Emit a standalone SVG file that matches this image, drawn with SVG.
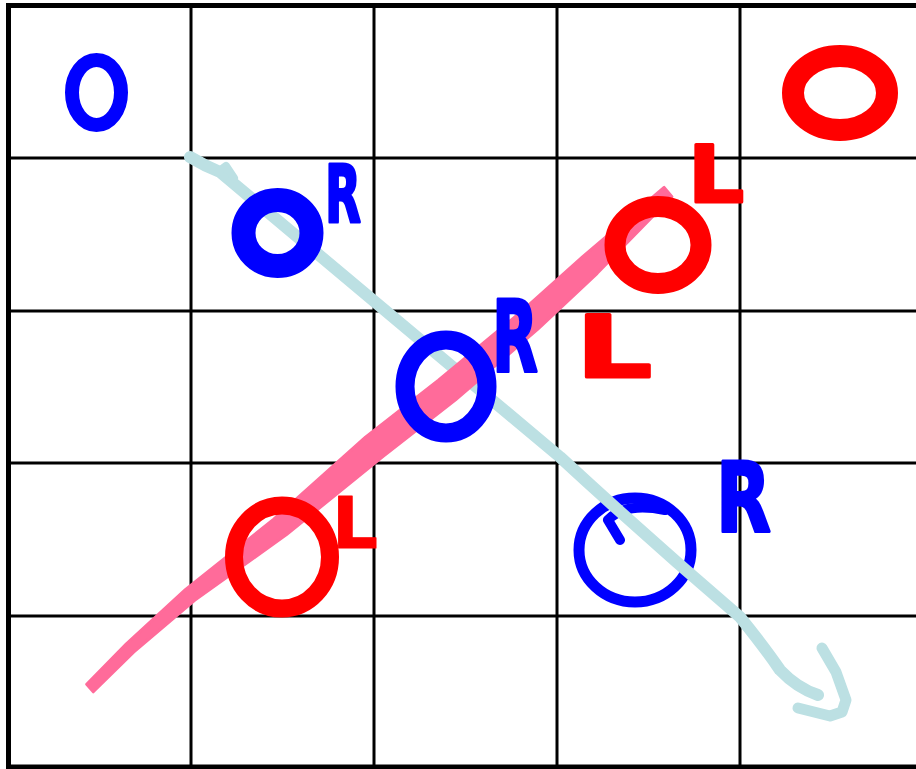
<svg xmlns="http://www.w3.org/2000/svg" width="916" height="769" viewBox="0 0 916 769">
<style>
.grid{stroke:#000;stroke-width:3;fill:none}
.border{stroke:#000;stroke-width:5;fill:none}
.blue{stroke:#0000ff;fill:none;stroke-linejoin:round;stroke-linecap:round}
.red{stroke:#ff0000;fill:none;stroke-linejoin:round;stroke-linecap:round}
.cyan{stroke:#bce0e3;fill:none;stroke-linejoin:round;stroke-linecap:round}
.lbl{font-family:"DejaVu Sans","Liberation Sans",sans-serif;font-weight:bold;stroke-linejoin:round}
.lb{fill:#0000ff;stroke:#0000ff}
.lr{fill:#ff0000;stroke:#ff0000}
</style>
<rect width="916" height="769" fill="#fff"/>
<g id="grid">
<rect class="border" x="8.5" y="5.5" width="930" height="761.5"/>
<line class="grid" x1="191" y1="5" x2="191" y2="767"/>
<line class="grid" x1="374" y1="5" x2="374" y2="767"/>
<line class="grid" x1="557" y1="5" x2="557" y2="767"/>
<line class="grid" x1="740" y1="5" x2="740" y2="767"/>
<line class="grid" x1="8" y1="158" x2="916" y2="158"/>
<line class="grid" x1="8" y1="311" x2="916" y2="311"/>
<line class="grid" x1="8" y1="463" x2="916" y2="463"/>
<line class="grid" x1="8" y1="616" x2="916" y2="616"/>
</g>
<g id="legend-blue"><ellipse class="blue" cx="96.5" cy="92.5" rx="24.5" ry="32.5" stroke-width="14"/></g>
<g id="legend-red"><ellipse class="red" cx="840" cy="93" rx="47" ry="37" stroke-width="22"/></g>
<g id="blue-stone-4"><ellipse class="blue" cx="635" cy="550" rx="56" ry="52" stroke-width="11"/><path class="blue" d="M620,540 L608,520 Q625,502 665,510" stroke-width="10"/></g>
<g id="connectors">
<path class="cyan" d="M190,157 Q205,166 220,172 L560,457 Q650,540 740,617 Q765,648 780,670 Q797,688 818,695" stroke-width="12"/>
<path class="cyan" d="M218,172 L226,166 L234,178" stroke-width="8"/>
<path class="cyan" d="M822,648 L836,672 L846,700 L842,712 L830,716 L798,708" stroke-width="11"/>
<polygon fill="#ff6b9a" stroke="#ff6b9a" stroke-width="3" stroke-linejoin="round" points="93.3,691.8 133.6,652.2 194.6,600.3 286.5,534.6 382.5,456.9 455.5,399.9 537.8,329.1 597.2,273.3 671.9,196.6 664.1,187.4 582.8,256.7 522.2,310.9 438.5,380.1 365.5,437.1 273.5,519.4 185.4,589.7 126.4,643.8 86.7,684.2"/>
</g>
<g id="blue-stone-1"><ellipse class="blue" cx="277.5" cy="233" rx="34" ry="33" stroke-width="24"/></g>
<g id="blue-stone-2"><ellipse class="blue" cx="446" cy="386.5" rx="41" ry="46.5" stroke-width="19"/></g>
<g id="red-stone-1"><ellipse class="red" cx="658" cy="245" rx="43" ry="38.5" stroke-width="21"/></g>
<g id="red-stone-2"><ellipse class="red" cx="282" cy="557" rx="48" ry="51.5" stroke-width="18"/></g>
<g id="labels">
<text class="lbl lb" x="325" y="222" font-size="80" textLength="36" lengthAdjust="spacingAndGlyphs" stroke-width="3">R</text>
<text class="lbl lb" x="492" y="372" font-size="100" textLength="46" lengthAdjust="spacingAndGlyphs" stroke-width="3">R</text>
<text class="lbl lb" x="716" y="532" font-size="96" textLength="55" lengthAdjust="spacingAndGlyphs" stroke-width="3">R</text>
<text class="lbl lr" x="688" y="202" font-size="78" textLength="56" lengthAdjust="spacingAndGlyphs" stroke-width="3">L</text>
<text class="lbl lr" x="576" y="377" font-size="86" textLength="76" lengthAdjust="spacingAndGlyphs" stroke-width="3">L</text>
<text class="lbl lr" x="332" y="548" font-size="72" textLength="46" lengthAdjust="spacingAndGlyphs" stroke-width="1">L</text>
</g>
</svg>
